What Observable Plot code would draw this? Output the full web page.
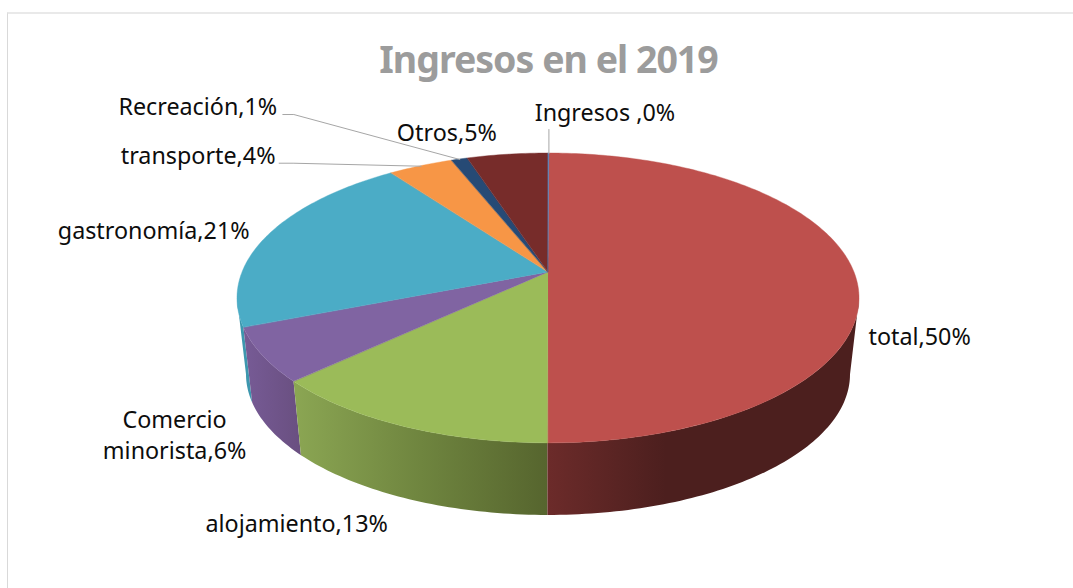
<!DOCTYPE html>
<html lang="es">
<head>
<meta charset="utf-8">
<script src="https://cdn.jsdelivr.net/npm/d3@7"></script>
<script src="https://cdn.jsdelivr.net/npm/@observablehq/plot@0.6"></script>
<style>
html,body{margin:0;padding:0;background:#fff;}
#frame{position:relative;width:1073px;height:588px;overflow:hidden;}
#edge{position:absolute;left:7px;top:12px;right:-5px;bottom:-5px;border-top:2px solid #e9e9e9;border-left:1px solid #d9d9d9;}
#title{margin:0;height:90px;box-sizing:border-box;padding-top:35px;text-align:center;padding-left:24px;
  font:700 37.5px/48px "Noto Sans",sans-serif;letter-spacing:-1px;color:#9c9c9c;position:relative;}
#chart{position:relative;height:498px;}
svg{display:block;}
</style>
</head>
<body>
<div id="frame">
<div id="edge"></div>
<h1 id="title">Ingresos en el 2019</h1>
<div id="chart"></div>
</div>
<script>
// Data, clockwise from twelve o'clock
const categories = ["Ingresos ", "total", "alojamiento", "Comercio\nminorista", "gastronomía", "transporte", "Recreación", "Otros"];
const shares = [0.05, 50, 13, 6, 21, 4, 1, 5];

// Styling
const topColors = ["#4f81bd", "#be504d", "#9bbb59", "#8064a2", "#4bacc6", "#f79646", "#264a75", "#772c2a"];
const wallStops = [
  [[0, "#3a5f8c"], [1, "#3a5f8c"]],
  [[0, "#6c2b2a"], [0.38, "#4c1f1e"], [1, "#4c1f1e"]],
  [[0, "#8ba653"], [0.5, "#6f853f"], [1, "#56652e"]],
  [[0, "#775b96"], [1, "#694f80"]],
  [[0, "#3d97ae"], [1, "#3d97ae"]],
  [[0, "#a8652e"], [1, "#a8652e"]],
  [[0, "#1a3352"], [1, "#1a3352"]],
  [[0, "#4f1d1c"], [1, "#4f1d1c"]]
];
// Label centre and leader bends, as offsets from the rim point of each slice
const labelOffsets = [[56, -39], [65, 65], [-106, 99], [-88, 81], [-115, -3], [-223, -9], [-262, -51], [-61, -21]];
const leaderPaths = {0: [[0, -24]], 5: [[-128, -3], [-142, -3]], 6: [[-166, -45], [-177, -45]]};

// Perspective of the tilted disc
const radiusX = 306, radiusY = 140.3, tilt = 0.179, depthScale = 0.971, depthDrop = 77;
const project = (t, floor = false) => {
  const a = 2 * Math.PI * t, u = Math.sin(a), v = -Math.cos(a), w = 1 - tilt * v;
  const s = floor ? depthScale : 1;
  return {x: s * radiusX * u / w, y: s * radiusY * v / w + (floor ? depthDrop : 0), cx: 0, cy: 0};
};
// The wall shows only between the two points where the rim turns back
const turn = Math.acos(-tilt) / (2 * Math.PI);

const total = d3.sum(shares);
const starts = d3.cumsum([0, ...shares]).map((d) => d / total);
const arc = (t0, t1) => {
  const n = Math.max(2, Math.ceil((t1 - t0) * 360));
  return d3.range(n + 1).map((k) => t0 + (t1 - t0) * k / n);
};
const rim = categories.map((_, i) => project((starts[i] + starts[i + 1]) / 2));

const wall = (i) => {
  const t0 = Math.max(starts[i], turn), t1 = Math.min(starts[i + 1], 1 - turn);
  if (t1 <= t0) return [];
  return arc(t0, t1).map((t) => {
    const a = project(t), b = project(t, true);
    return {x1: a.x, y1: a.y, x2: b.x, y2: b.y};
  });
};
const wedge = (i) => arc(starts[i], starts[i + 1]).map((t) => project(t));

const labels = categories.map((c, i) => ({
  text: `${c},${Math.round(shares[i])}%`,
  x: rim[i].x + labelOffsets[i][0],
  y: rim[i].y + labelOffsets[i][1]
}));
const leaders = Object.entries(leaderPaths).flatMap(([i, bends]) =>
  [[0, 0], ...bends].map(([dx, dy]) => ({id: +i, x: rim[i].x + dx, y: rim[i].y + dy}))
);

const gradients = () => {
  const defs = d3.create("svg:defs");
  wallStops.forEach((stops, i) => {
    const g = defs.append("linearGradient").attr("id", `wall${i}`).attr("x1", 0).attr("x2", 1).attr("y1", 0).attr("y2", 0);
    stops.forEach(([o, c]) => g.append("stop").attr("offset", o).attr("stop-color", c));
  });
  return defs.node();
};

const wallOrder = [4, 3, 2, 1];
const lidOrder = [1, 2, 3, 4, 5, 6, 7, 0];

const plot = Plot.plot({
  width: 1073,
  height: 498,
  margin: 0,
  style: {background: "transparent", overflow: "visible"},
  x: {type: "linear", domain: [-548, 525], range: [0, 1073], axis: null},
  y: {type: "linear", domain: [-182, 316], range: [0, 498], axis: null},
  marks: [
    gradients,
    ...wallOrder.map((i) => Plot.area(wall(i), {x1: "x1", y1: "y1", x2: "x2", y2: "y2", fill: `url(#wall${i})`})),
    ...lidOrder.map((i) => Plot.area(wedge(i), {x1: "cx", y1: "cy", x2: "x", y2: "y", fill: topColors[i], stroke: topColors[i], strokeWidth: 0.4})),
    Plot.line(leaders, {x: "x", y: "y", z: "id", stroke: "#a6a6a6", strokeWidth: 1}),
    Plot.text(labels, {x: "x", y: "y", dy: -3, text: "text", fontSize: 23.3, lineHeight: 1.33, fill: "#0d0d0d", fontFamily: "Noto Sans", textAnchor: "middle"})
  ]
});
document.getElementById("chart").appendChild(plot);
</script>
</body>
</html>
